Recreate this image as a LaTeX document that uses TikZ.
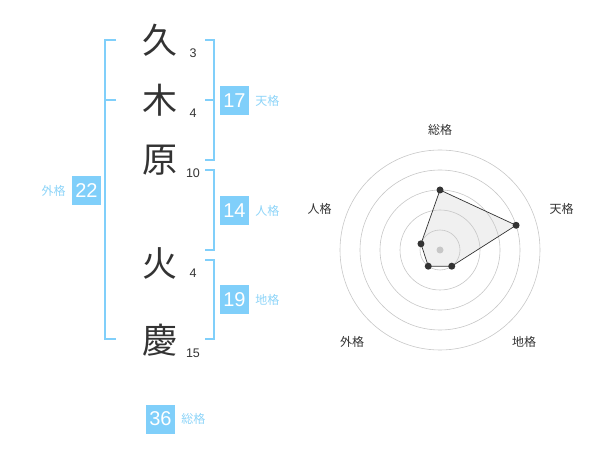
\documentclass[tikz,border=0pt]{standalone}
\usepackage{fontspec}
\setmainfont{Liberation Sans}
\newfontfamily\jp{Noto Sans CJK JP}
\usepackage{xcolor}
\usetikzlibrary{positioning}
\definecolor{sky}{HTML}{80CFFA}
\definecolor{skytxt}{HTML}{8DD4F8}
\definecolor{ink}{HTML}{333333}

\begin{document}
\begin{tikzpicture}[x=1pt,y=-1pt,
    kanji/.style={font=\jp\fontsize{35}{35}\selectfont, text=ink, inner sep=0},
    strokes/.style={font=\fontsize{12.5}{12.5}\selectfont, text=ink, inner sep=0},
    score/.style={fill=sky, text=white, minimum size=29pt, inner sep=0, font=\fontsize{20}{20}\selectfont},
    kaku/.style={font=\jp\fontsize{12}{12}\selectfont, text=skytxt, inner sep=0},
    brk/.style={draw=sky, line width=1.6pt},
    ring/.style={draw=black!22, line width=0.6pt},
    dot/.style={circle, fill=ink, inner sep=0, minimum size=7pt},
    axis/.style={font=\jp\fontsize{12}{12}\selectfont, text=ink, inner sep=0}]
    \useasboundingbox (0,0) rectangle (600,470);

    % name
    \node[kanji] (A) at (160,40) {久};
    \node[kanji] (B) at (160,100) {木};
    \node[kanji] (C) at (160,160) {原};
    \node[kanji] (D) at (160,263) {火};
    \node[kanji] (E) at (160,340) {慶};

    \node[strokes] (nA) at (193,53) {3};
    \node[strokes] (nB) at (193,113) {4};
    \node[strokes] (nC) at (193,173) {10};
    \node[strokes] (nD) at (193,273) {4};
    \node[strokes] (nE) at (193,353) {15};

    % brackets
    \draw[brk] (116,40) -- (105,40) -- (105,339) -- (116,339);
    \draw[brk] (116,100) -- (105,100);
    \draw[brk] (205,40) -- (214,40) -- (214,160) -- (205,160);
    \draw[brk] (205,100) -- (214,100);
    \draw[brk] (205,170) -- (214,170) -- (214,250) -- (205,250);
    \draw[brk] (205,260) -- (214,260) -- (214,339) -- (205,339);

    % scores
    \node[score] (ten) at (234.5,100.5) {17};
    \node[kaku, right=6pt of ten] {天格};
    \node[score] (jin) at (234.5,211) {14};
    \node[kaku, right=6pt of jin] {人格};
    \node[score] (chi) at (234.5,300) {19};
    \node[kaku, right=6pt of chi] {地格};
    \node[score] (gai) at (86.5,190.5) {22};
    \node[kaku, left=6pt of gai] {外格};
    \node[score] (sou) at (160.5,419) {36};
    \node[kaku, right=6pt of sou] {総格};

    % radar
    \begin{scope}[shift={(440,250)}, y=1pt]
        \coordinate (O) at (0,0);
        \coordinate (v1) at (90:60);
        \coordinate (v2) at (18:80);
        \coordinate (v3) at (-54:20);
        \coordinate (v4) at (-126:20);
        \coordinate (v5) at (162:20);
        \fill[black!6] (v1) -- (v2) -- (v3) -- (v4) -- (v5) -- cycle;
        \foreach \r in {20,40,...,100}
            \draw[ring] (O) circle (\r);
        \fill[black!22] (O) circle (3.5);
        \draw[ink, line width=0.7pt] (v1) -- (v2) -- (v3) -- (v4) -- (v5) -- cycle;
        \foreach \v in {v1,v2,v3,v4,v5}
            \node[dot] at (\v) {};
    \end{scope}

    \node[axis] (l1) at (440,130) {総格};
    \node[axis] (l2) at (561.5,208.5) {天格};
    \node[axis] (l3) at (524,342) {地格};
    \node[axis] (l4) at (352,342) {外格};
    \node[axis] (l5) at (319.5,208.5) {人格};
\end{tikzpicture}
\end{document}
